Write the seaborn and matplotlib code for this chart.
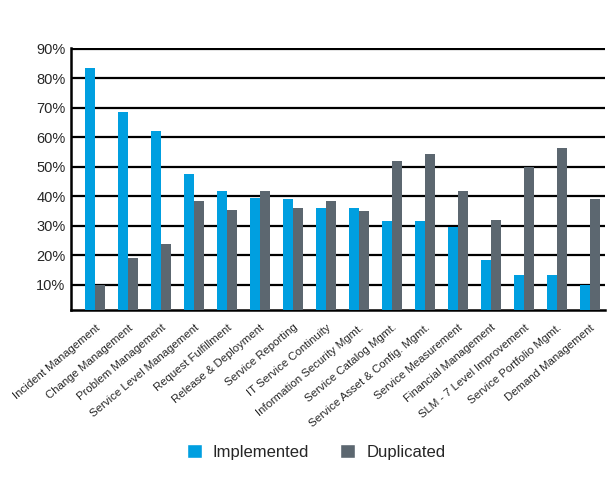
import matplotlib
matplotlib.use("Agg")
import matplotlib.pyplot as plt
import seaborn as sns
import pandas as pd
from matplotlib.patches import Patch

# Data
categories = [
    "Incident Management", "Change Management", "Problem Management",
    "Service Level Management", "Request Fulfillment", "Release & Deployment",
    "Service Reporting", "IT Service Continuity", "Information Security Mgmt.",
    "Service Catalog Mgmt.", "Service Asset & Config. Mgmt.", "Service Measurement",
    "Financial Management", "SLM - 7 Level Improvement", "Service Portfolio Mgmt.",
    "Demand Management",
]
implemented = [83.5, 68.5, 62, 47.5, 42, 39.5, 39, 36, 36, 31.5, 31.5, 29.5, 18.5, 13.5, 13.5, 10]
duplicated = [10, 19, 24, 38.5, 35.5, 42, 36, 38.5, 35, 52, 54.5, 42, 32, 50, 56.5, 39]
series = ["Implemented", "Duplicated"]
colors = ["#009fe0", "#5c6770"]
yticks = [10, 20, 30, 40, 50, 60, 70, 80, 90]

df = pd.DataFrame({
    "category": categories * 2,
    "value": implemented + duplicated,
    "series": [series[0]] * len(categories) + [series[1]] * len(categories),
})

sns.set_style("white")
plt.rcParams["font.family"] = ["Liberation Sans", "DejaVu Sans"]

fig = plt.figure(figsize=(6.16, 4.8), dpi=100)
ax = fig.add_axes([71 / 616, 1 - 310 / 480, (605 - 71) / 616, (310 - 48) / 480])

sns.barplot(data=df, x="category", y="value", hue="series", palette=colors,
            width=0.6, gap=0, saturation=1, linewidth=0, legend=False, ax=ax, zorder=3)

# horizontal black gridlines
for t in yticks:
    ax.axhline(t, color="black", lw=1.6, zorder=1)

ax.set_ylim(1.5, 90.3)
ax.set_xlim(-0.73, 15.45)
ax.set_yticks(yticks)
ax.set_yticklabels([f"{t}%" for t in yticks], fontsize=10.5)
ax.set_xticks(range(len(categories)))
ax.set_xticklabels(categories, rotation=40, ha="right", rotation_mode="anchor", fontsize=8.2)
ax.tick_params(axis="both", length=0, pad=4)
ax.tick_params(axis="x", pad=9)
ax.set_xlabel("")
ax.set_ylabel("")

for side in ["top", "right"]:
    ax.spines[side].set_visible(False)
for side in ["left", "bottom"]:
    ax.spines[side].set_color("black")
    ax.spines[side].set_linewidth(1.8)

handles = [Patch(facecolor=c, label=s) for c, s in zip(colors, series)]
fig.legend(handles=handles, loc="center", bbox_to_anchor=(316 / 616, 1 - 452 / 480),
           ncol=2, frameon=False, fontsize=12, handlelength=0.9, handleheight=0.9,
           columnspacing=1.9, handletextpad=0.65)

fig.savefig("out.png", dpi=100)
